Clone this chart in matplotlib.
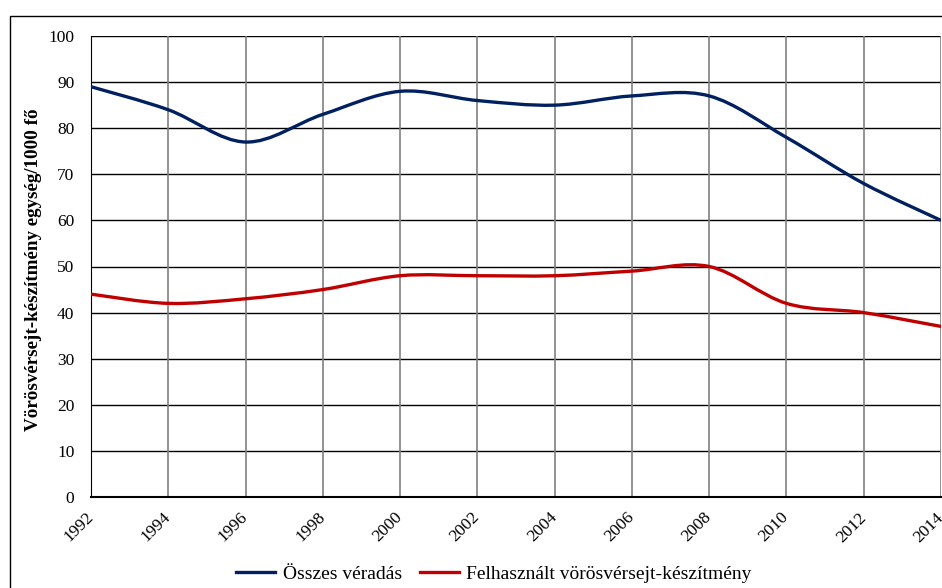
import numpy as np
import matplotlib.pyplot as plt
from matplotlib.path import Path
from matplotlib.patches import PathPatch, Rectangle
from matplotlib.lines import Line2D

years = [1992, 1994, 1996, 1998, 2000, 2002, 2004, 2006, 2008, 2010, 2012, 2014]
osszes = [89, 84, 77, 83, 88, 86, 85, 87, 87, 78, 68, 60]
felhasznalt = [44, 42, 43, 45, 48, 48, 48, 49, 50, 42, 40, 37]

blue = '#002060'
red = '#C00000'

plt.rcParams['font.family'] = ['Liberation Serif', 'DejaVu Serif']


def smooth_path(xs, ys):
    # Excel-like smoothed line: Catmull-Rom converted to cubic Bezier
    pts = np.column_stack([xs, ys]).astype(float)
    p = np.vstack([pts[0], pts, pts[-1]])
    verts = [pts[0]]
    codes = [Path.MOVETO]
    for i in range(1, len(p) - 2):
        c1 = p[i] + (p[i + 1] - p[i - 1]) / 6.0
        c2 = p[i + 1] - (p[i + 2] - p[i]) / 6.0
        verts += [c1, c2, p[i + 1]]
        codes += [Path.CURVE4] * 3
    return Path(verts, codes)


fig = plt.figure(figsize=(9.42, 5.88), dpi=100)
ax = fig.add_axes([91 / 942, 1 - 497 / 588, 850 / 942, 461 / 588])

# outer border of the chart area
fig.patches.append(Rectangle((10 / 942, -0.5), 2, 0.5 + 1 - 16 / 588,
                             transform=fig.transFigure, fill=False,
                             edgecolor='black', linewidth=1.0))

ax.set_xlim(1992, 2014)
ax.set_ylim(0, 100)
ax.set_xticks(years)
ax.set_yticks(range(0, 101, 10))

for y in range(10, 101, 10):
    ax.axhline(y, color='black', linewidth=1.0, zorder=1)
for x in years[1:]:
    ax.axvline(x, color='#808080', linewidth=1.2, zorder=1)

for s in ['top', 'right']:
    ax.spines[s].set_visible(False)
ax.spines['left'].set_color('black')
ax.spines['bottom'].set_color('black')
ax.spines['bottom'].set_linewidth(1.5)

ax.add_patch(PathPatch(smooth_path(years, osszes), facecolor='none',
                       edgecolor=blue, linewidth=2.4, zorder=3, capstyle='butt'))
ax.add_patch(PathPatch(smooth_path(years, felhasznalt), facecolor='none',
                       edgecolor=red, linewidth=2.4, zorder=3, capstyle='butt'))

ax.tick_params(axis='both', length=0, labelsize=12.5)
ax.tick_params(axis='y', pad=12)
ax.tick_params(axis='x', pad=13)
for lab in ax.get_xticklabels():
    lab.set_rotation(45)
    lab.set_ha('right')
    lab.set_va('center')
    lab.set_rotation_mode('anchor')

ax.set_ylabel('Vörösvérsejt-készítmény egység/1000 fő', fontsize=13.7,
              fontweight='bold')
ax.yaxis.set_label_coords(-0.058, 0.492)

handles = [Line2D([], [], color=blue, linewidth=2.4),
           Line2D([], [], color=red, linewidth=2.4)]
fig.legend(handles, ['Összes véradás', 'Felhasznált vörösvérsejt-készítmény'],
           loc='center', bbox_to_anchor=(494 / 942, 1 - 574 / 588), ncol=2,
           frameon=False, fontsize=14, handlelength=2.0, columnspacing=0.9,
           handletextpad=0.4)

fig.savefig('out.png', dpi=100)
